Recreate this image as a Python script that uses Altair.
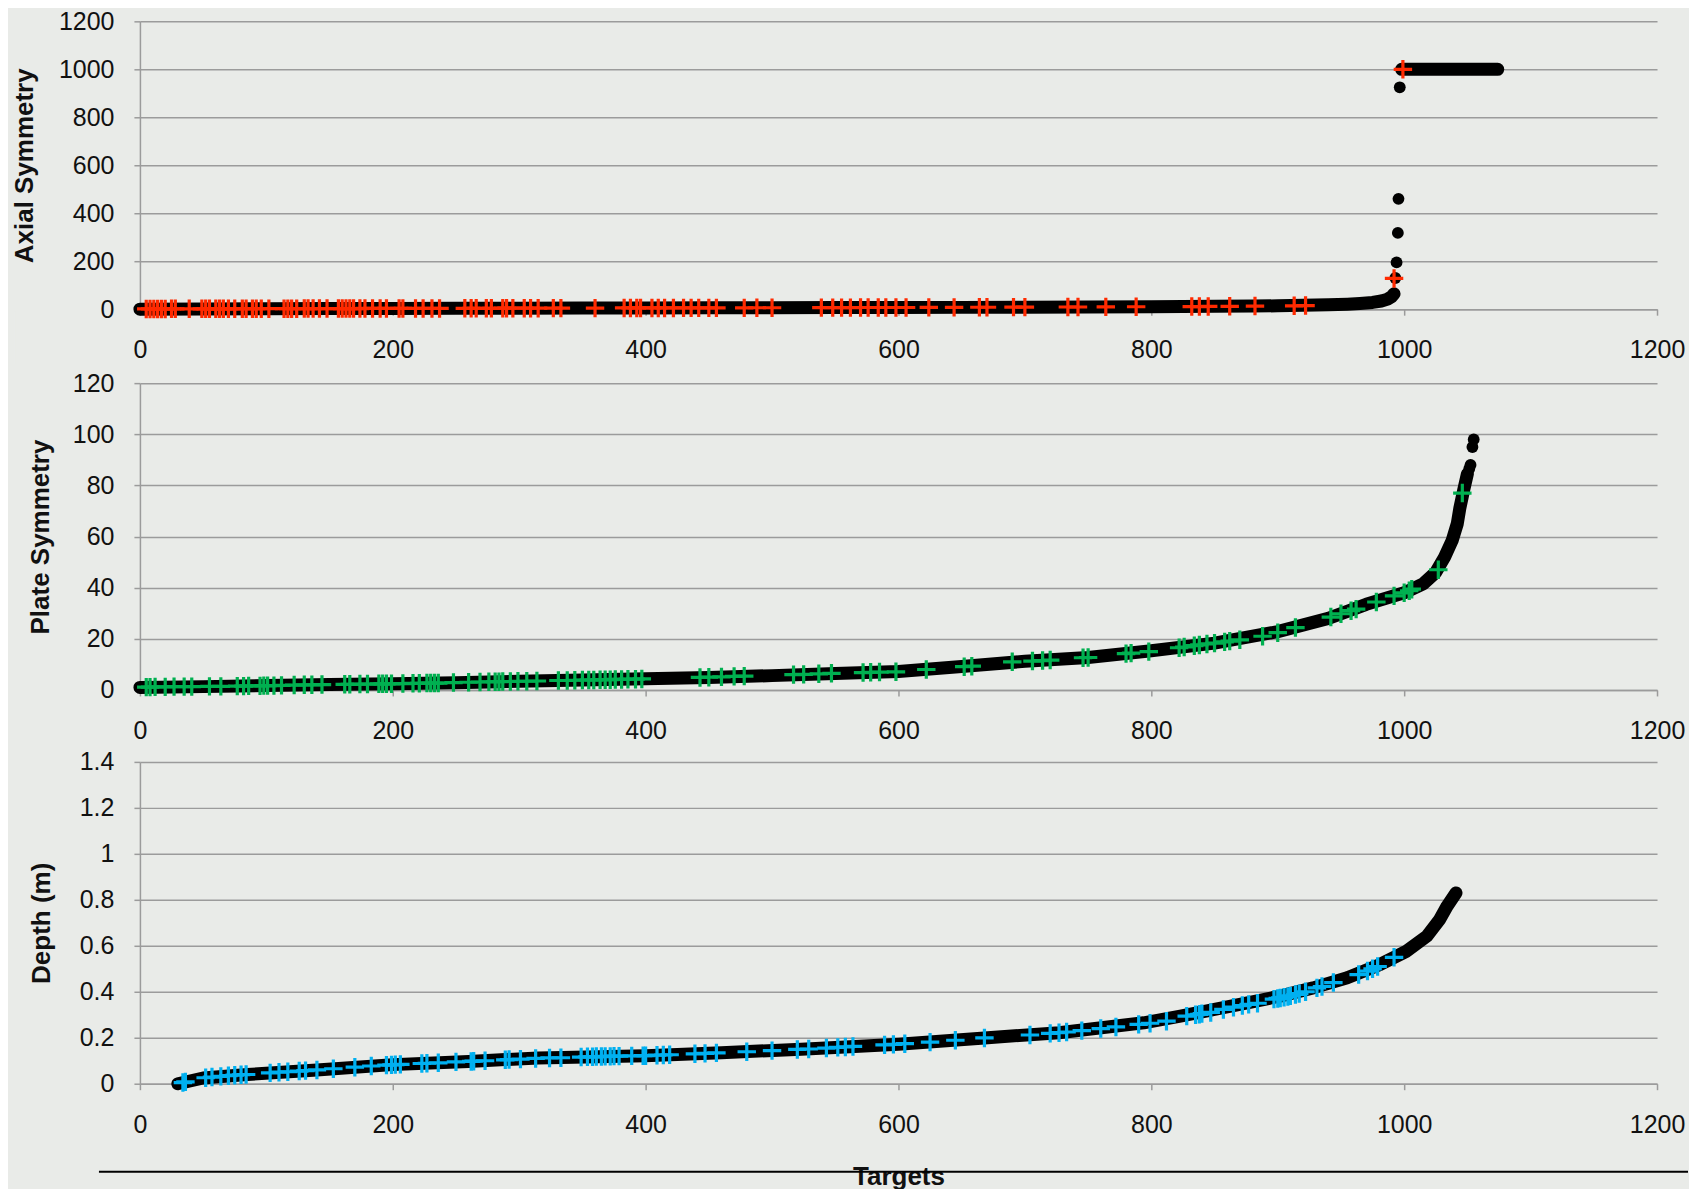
import altair as alt
import pandas as pd

FONT = "Liberation Sans"
BG = "#e9ebe8"
GRID = "#9b9b9b"
RED = "#ff2a00"
GREEN = "#00b050"
BLUE = "#00b0f0"

x_ticks = [0, 200, 400, 600, 800, 1000, 1200]

# ---------------- Panel 1: Axial Symmetry ----------------
axial_curve_x = [0, 50, 100, 150, 200, 250, 300, 350, 400, 450, 500, 550, 600, 650, 700,
                 750, 800, 850, 880, 900, 920, 940, 955, 965, 975, 982, 987, 990, 992]
axial_curve_y = [0, 1, 2, 2.5, 3, 3.5, 4, 4.5, 5, 5.5, 6, 6.5, 7, 7.5, 8.5,
                 9.5, 10.5, 12, 13, 14, 16, 18, 21, 24, 28, 34, 42, 52, 64]
axial_top_x = [998, 1074]
axial_top_y = [1000, 1000]
axial_jump_x = [993, 994, 995, 995.5, 996.5]
axial_jump_y = [130, 195, 318, 460, 925]
axial_plus_x = [5, 8, 11, 14, 17, 20, 25, 28, 39, 49, 52, 55, 60, 63, 66, 70, 75, 81, 84, 89, 92, 96,
                102, 114, 117, 120, 124, 130, 133, 137, 142, 148, 157, 160, 163, 166, 169, 174, 178, 184, 190, 195,
                205, 208, 218, 224, 231, 237, 257, 262, 266, 274, 278, 287, 290, 295, 304, 309, 315, 327, 333,
                360, 383, 388, 393, 396, 405, 410, 415, 422, 430, 436, 442, 450, 456, 478, 488, 500,
                539, 548, 555, 562, 570, 576, 584, 590, 598, 606,
                624, 644, 664, 670, 691, 700,
                734, 742, 764, 788,
                832, 838, 845, 862, 882, 913, 922,
                992, 999]
axial_plus_y = [1, 1, 1, 1, 1, 1, 1.5, 1.5, 1.5, 1.5, 1.5, 1.5, 1.5, 1.5, 1.5, 1.5, 1.5, 2, 2, 2, 2, 2,
                2, 2, 2, 2, 2, 2.5, 2.5, 2.5, 2.5, 2.5, 2.5, 2.5, 2.5, 2.5, 2.5, 2.5, 3, 3, 3, 3,
                3, 3, 3, 3, 3, 3, 3.5, 3.5, 3.5, 3.5, 3.5, 4, 4, 4, 4, 4, 4, 4.5, 4.5,
                4.5, 5, 5, 5, 5, 5, 5, 5, 5, 5.5, 5.5, 5.5, 5.5, 5.5, 5.5, 6, 6,
                6.5, 6.5, 6.5, 6.5, 7, 7, 7, 7, 7, 7,
                7.5, 7.5, 8, 8, 8.5, 8.5,
                9, 9, 9.5, 10,
                11, 11, 11.5, 12, 13, 14, 15,
                128, 1000]

# ---------------- Panel 2: Plate Symmetry ----------------
plate_curve_x = [0, 50, 100, 150, 200, 250, 300, 350, 400, 450, 500, 550, 600, 650, 700, 750,
                 800, 850, 900, 940, 970, 1000, 1015, 1025, 1032, 1038, 1042, 1044, 1047, 1050]
plate_curve_y = [1, 1.3, 1.7, 2.1, 2.4, 2.8, 3.4, 3.9, 4.4, 4.9, 5.6, 6.4, 7.2, 9.2, 11.2, 12.7,
                 15.3, 18.3, 22.8, 28, 33.5, 38, 41.5, 46, 52, 58.5, 65, 71, 78, 84.5]
plate_dot_x = [1051.5, 1052.5, 1054, 1055]
plate_dot_y = [86.5, 88, 95, 98]
plate_plus_x = [5, 8, 12, 20, 27, 35, 41, 55, 64, 77, 82, 86, 95, 98,
                101, 106, 112, 122, 130, 136, 144, 162, 166, 174, 180, 189, 192, 195, 199,
                208, 216, 221, 227, 230, 233, 236, 248, 260, 269, 276, 281, 284, 287, 293, 299,
                306, 314, 331, 338, 344, 350, 355, 359, 364, 368, 372, 376, 381, 386, 392, 397,
                443, 450, 460, 470, 478, 517, 525, 537, 547, 572, 578, 585, 598,
                622, 652, 658, 690, 706, 714, 720, 746, 750, 780, 784, 798,
                822, 826, 834, 838, 844, 850, 858, 862, 870, 888, 900, 914, 942, 950, 958, 962, 978, 992,
                1000, 1004, 1006, 1027, 1046]
plate_plus_y = [1.1, 1.1, 1.2, 1.2, 1.3, 1.3, 1.3, 1.4, 1.4, 1.5, 1.5, 1.6, 1.6, 1.7,
                1.7, 1.7, 1.8, 1.9, 2, 2, 2.1, 2.2, 2.2, 2.3, 2.3, 2.4, 2.4, 2.4, 2.4,
                2.5, 2.6, 2.6, 2.7, 2.7, 2.7, 2.7, 2.9, 3, 3.1, 3.2, 3.2, 3.2, 3.3, 3.3, 3.4,
                3.4, 3.5, 3.7, 3.7, 3.8, 3.9, 3.9, 3.9, 4, 4, 4, 4.1, 4.1, 4.2, 4.2, 4.3,
                4.9, 5, 5.1, 5.3, 5.4, 6, 6.1, 6.3, 6.5, 6.8, 6.9, 7, 7.1,
                8, 9.1, 9.3, 11, 11.3, 11.5, 11.7, 12.6, 12.7, 14.2, 14.4, 15,
                16.5, 16.8, 17.3, 17.6, 18, 18.3, 18.8, 19.1, 19.6, 21, 22.4, 24.4, 28.5, 29.8, 31, 31.6, 34.4, 36.8,
                38, 38.8, 39.4, 47, 77]

# ---------------- Panel 3: Depth (m) ----------------
depth_curve_x = [30, 50, 85, 140, 200, 260, 315, 400, 460, 523, 600, 668, 727, 794, 823, 850,
                 876, 902, 928, 955, 981, 1002, 1018, 1028, 1034, 1041]
depth_curve_y = [0, 0.025, 0.04, 0.06, 0.083, 0.097, 0.112, 0.122, 0.135, 0.15, 0.172, 0.199, 0.222,
                 0.265, 0.294, 0.323, 0.352, 0.381, 0.417, 0.461, 0.519, 0.577, 0.642, 0.714, 0.773, 0.83]
depth_plus_x = [34, 36, 52, 57, 64, 70, 75, 80, 84, 103, 110, 117, 126, 131, 140, 153, 170, 183, 195, 199,
                202, 206, 223, 227, 236, 250, 262, 264, 273, 289, 292, 301, 313, 324, 333, 349, 354, 358,
                361, 365, 368, 372, 375, 379, 389, 398,
                400, 409, 414, 419, 439, 447, 456, 480, 500, 520, 529, 543, 552, 558, 564, 589, 596,
                605, 625, 645, 668, 704, 720, 727, 733, 745, 760, 772, 790, 799, 812,
                828, 835, 838, 840, 847, 857, 865, 872, 877, 884, 897, 900, 902, 905, 908, 910, 914, 917,
                922, 931, 935, 944, 964, 971, 975, 979, 992]
depth_plus_y = [0.005, 0.008, 0.026, 0.029, 0.032, 0.035, 0.037, 0.039, 0.04, 0.047, 0.05, 0.052, 0.055,
                0.057, 0.06, 0.065, 0.072, 0.077, 0.081, 0.082,
                0.083, 0.084, 0.088, 0.089, 0.091, 0.095, 0.097, 0.098, 0.1, 0.104, 0.105, 0.107, 0.11,
                0.112, 0.113, 0.116, 0.117, 0.117, 0.118, 0.118, 0.119, 0.119, 0.12, 0.12, 0.121, 0.122,
                0.122, 0.124, 0.125, 0.126, 0.13, 0.132, 0.134, 0.139, 0.144, 0.149, 0.151, 0.155, 0.158,
                0.16, 0.162, 0.169, 0.171,
                0.174, 0.181, 0.189, 0.199, 0.212, 0.219, 0.222, 0.225, 0.231, 0.24, 0.247, 0.258, 0.263, 0.272,
                0.294, 0.3, 0.302, 0.305, 0.31, 0.323, 0.333, 0.34, 0.345, 0.35, 0.368, 0.371, 0.373,
                0.376, 0.379, 0.382, 0.388, 0.392, 0.4, 0.417, 0.423, 0.44, 0.475, 0.49, 0.5, 0.51, 0.55]

PLUS = "M-1,0L1,0M0,-1L0,1"
W = 1518


def panel(curves, dots, plus, color, ydom, yvals, yfmt, height, ytitle, title_x,
          xtitle=None, extras=None):
    xenc = alt.X("x:Q",
                 scale=alt.Scale(domain=[0, 1200], nice=False, zero=False),
                 axis=alt.Axis(values=x_ticks, format="d", grid=False, labelPadding=22.5,
                               labelFlush=False, labelOverlap=False,
                               title=xtitle, titlePadding=26))
    yenc = alt.Y("y:Q",
                 scale=alt.Scale(domain=ydom, nice=False, zero=False),
                 axis=alt.Axis(values=yvals, format=yfmt, grid=True, labelPadding=20,
                               labelFlush=False, labelOverlap=False,
                               title=ytitle, titleX=title_x, titleBaseline="middle"))
    frames = []
    for i, (cx, cy) in enumerate(curves):
        frames.append(pd.DataFrame({"x": cx, "y": cy, "seg": i}))
    curve_df = pd.concat(frames, ignore_index=True)
    layers = [
        alt.Chart(curve_df).mark_line(color="black", strokeWidth=13, strokeCap="round",
                                      strokeJoin="round").encode(
            x=xenc, y=yenc, detail="seg:N", order="x:Q")
    ]
    if dots is not None:
        layers.append(alt.Chart(pd.DataFrame({"x": dots[0], "y": dots[1]})).mark_circle(
            color="black", opacity=1, size=140).encode(x=xenc, y=yenc))
    layers.append(alt.Chart(pd.DataFrame({"x": plus[0], "y": plus[1]})).mark_point(
        shape=PLUS, filled=False, color=color, stroke=color, strokeWidth=3.2, size=340,
        opacity=1).encode(x=xenc, y=yenc))
    if extras:
        layers.extend(extras)
    return alt.layer(*layers).properties(width=W, height=height)


one = pd.DataFrame({"k": [0]})
spacer = alt.Chart(one).mark_rule(color=BG, strokeWidth=1).encode(
    x=alt.value(-125), y=alt.value(290), y2=alt.value(343))
slide_line = alt.Chart(one).mark_rule(color="black", strokeWidth=2).encode(
    x=alt.value(-41), x2=alt.value(1549), y=alt.value(410))

p1 = panel([(axial_curve_x, axial_curve_y), (axial_top_x, axial_top_y)],
           (axial_jump_x, axial_jump_y), (axial_plus_x, axial_plus_y), RED,
           [0, 1200], [0, 200, 400, 600, 800, 1000, 1200], "d", 288,
           "Axial Symmetry", -115, extras=[spacer])
p2 = panel([(plate_curve_x, plate_curve_y)], (plate_dot_x, plate_dot_y),
           (plate_plus_x, plate_plus_y), GREEN,
           [0, 120], [0, 20, 40, 60, 80, 100, 120], "d", 307,
           "Plate Symmetry", -99)
p3 = panel([(depth_curve_x, depth_curve_y)], None, (depth_plus_x, depth_plus_y), BLUE,
           [0, 1.4], [0, 0.2, 0.4, 0.6, 0.8, 1, 1.2, 1.4], "~g", 322,
           "Depth (m)", -98, xtitle="Targets", extras=[slide_line])

chart = alt.vconcat(p1, p2, p3, spacing=6).properties(
    padding={"left": 4, "top": 1, "right": 0, "bottom": 0}
).configure(background=BG).configure_view(stroke=None).configure_axis(
    labelFont=FONT, titleFont=FONT, labelFontSize=25, titleFontSize=26,
    titleFontWeight="bold", labelColor="#111111", titleColor="#111111",
    gridColor=GRID, gridWidth=1.5, domainColor=GRID, domainWidth=1.5,
    tickColor=GRID, tickWidth=1.5, tickSize=6)

chart.save("out.html", embed_options={"renderer": "svg", "actions": False})
